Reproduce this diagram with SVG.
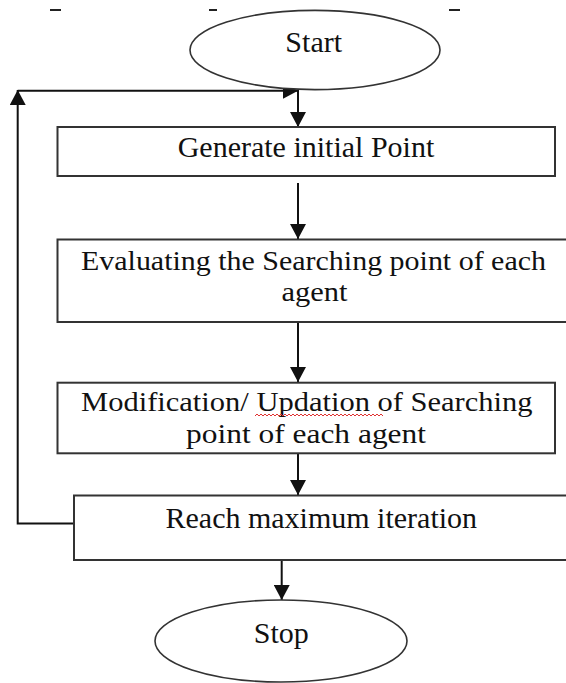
<svg xmlns="http://www.w3.org/2000/svg" width="566" height="683" viewBox="0 0 566 683">
  <style>
    .box { fill: #ffffff; stroke: #333333; stroke-width: 2; }
    .term { fill: #ffffff; stroke: #333333; stroke-width: 1.6; }
    .lbl { font-family: "Liberation Serif", "Times New Roman", serif; font-size: 30px; fill: #111111; text-anchor: middle; }
    .lbl2 { font-family: "Liberation Serif", "Times New Roman", serif; font-size: 28px; fill: #111111; text-anchor: middle; }
    .conn { fill: none; stroke: #111111; stroke-width: 2; }
    .frag { fill: #222222; }
  </style>
  <defs>
    <marker id="arrow" viewBox="0 0 15 16" refX="15" refY="8" markerWidth="15" markerHeight="16" markerUnits="userSpaceOnUse" orient="auto">
      <path d="M0,0 L15,8 L0,16 z" fill="#111111"/>
    </marker>
  </defs>
  <rect x="0" y="0" width="566" height="683" fill="#ffffff"/>

  <g id="top-fragments">
    <rect class="frag" x="50" y="9" width="11" height="2"/>
    <rect class="frag" x="209" y="9" width="8" height="2"/>
    <rect class="frag" x="449" y="9" width="11" height="2"/>
  </g>

  <g id="connectors">
    <path class="conn" d="M298,90 L298,127" marker-end="url(#arrow)"/>
    <path class="conn" d="M298,183 L298,239" marker-end="url(#arrow)"/>
    <path class="conn" d="M298,323 L298,382" marker-end="url(#arrow)"/>
    <path class="conn" d="M298,454 L298,495" marker-end="url(#arrow)"/>
    <path class="conn" d="M281.7,560 L281.7,600" marker-end="url(#arrow)"/>
    <path class="conn" d="M74,523.5 H17.7 V90" marker-end="url(#arrow)"/>
    <path class="conn" d="M17.7,90.7 H298" marker-end="url(#arrow)"/>
  </g>

  <g id="start">
    <ellipse class="term" cx="315" cy="50" rx="125" ry="39.6"/>
    <text class="lbl" x="313.7" y="51.7">Start</text>
  </g>

  <g id="generate">
    <rect class="box" x="57.5" y="127" width="497.5" height="49"/>
    <text class="lbl" x="306" y="157">Generate initial Point</text>
  </g>

  <g id="evaluate">
    <rect class="box" x="57.5" y="239.5" width="512" height="82.5"/>
    <text class="lbl2"><tspan x="313.5" y="269.5" textLength="465" lengthAdjust="spacingAndGlyphs">Evaluating the Searching point of each</tspan><tspan x="314.5" y="300.5" textLength="66" lengthAdjust="spacingAndGlyphs">agent</tspan></text>
  </g>

  <g id="modify">
    <rect class="box" x="57.5" y="382.7" width="497.5" height="70.6"/>
    <text class="lbl2"><tspan x="306.8" y="411" textLength="451.5" lengthAdjust="spacingAndGlyphs">Modification/ Updation of Searching</tspan><tspan x="306" y="442.5" textLength="240" lengthAdjust="spacingAndGlyphs">point of each agent</tspan></text>
    <path d="M255,416 l2,-2 l2,2 l2,-2 l2,2 l2,-2 l2,2 l2,-2 l2,2 l2,-2 l2,2 l2,-2 l2,2 l2,-2 l2,2 l2,-2 l2,2 l2,-2 l2,2 l2,-2 l2,2 l2,-2 l2,2 l2,-2 l2,2 l2,-2 l2,2 l2,-2 l2,2 l2,-2 l2,2 l2,-2 l2,2 l2,-2 l2,2 l2,-2 l2,2 l2,-2 l2,2 l2,-2 l2,2 l2,-2 l2,2 l2,-2 l2,2 l2,-2 l2,2 l2,-2 l2,2 l2,-2 l2,2 l2,-2 l2,2 l2,-2 l2,2 l2,-2 l2,2 l2,-2 l2,2 l2,-2 l2,2 l2,-2 l2,2 l2,-2 l2,2" fill="none" stroke="#e03030" stroke-width="1"/>
  </g>

  <g id="reach">
    <rect class="box" x="74" y="495.5" width="496" height="64.5"/>
    <text class="lbl" x="321.3" y="527.5">Reach maximum iteration</text>
  </g>

  <g id="stop">
    <ellipse class="term" cx="281" cy="641" rx="126" ry="41"/>
    <text class="lbl" x="281.3" y="642.7">Stop</text>
  </g>
</svg>
